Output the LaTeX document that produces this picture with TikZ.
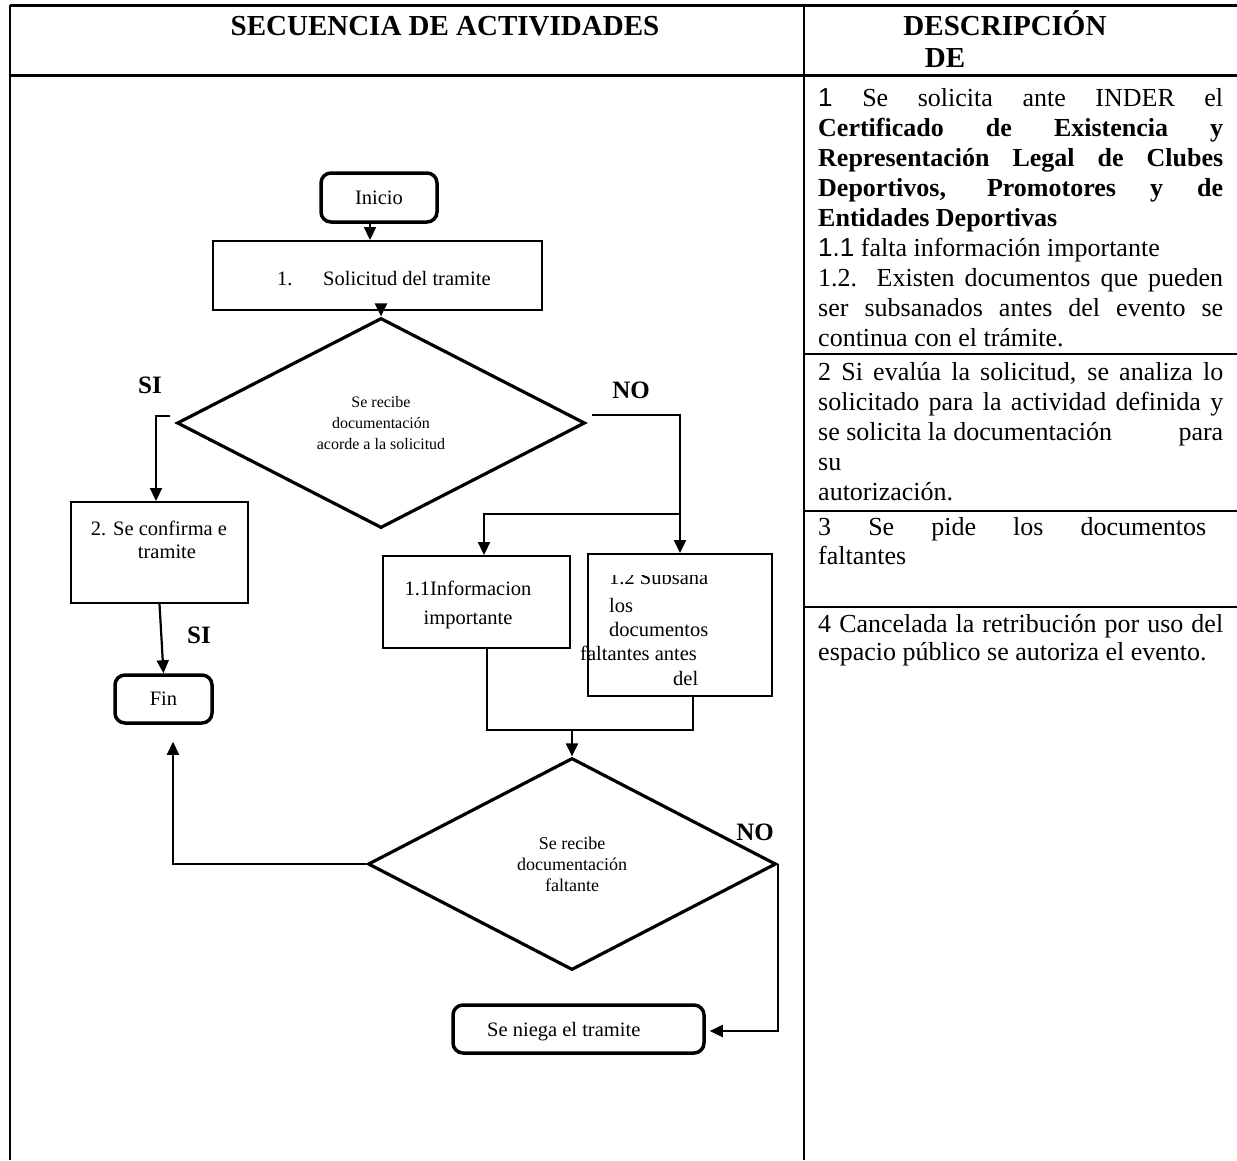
\documentclass[tikz,border=0pt]{standalone}
\usepackage{fontspec}
\setmainfont{Liberation Serif}
\newfontfamily\descfont{Liberation Serif}
\newfontfamily\descsans{Liberation Sans}
\usetikzlibrary{shapes.geometric,arrows.meta}
\newcommand\rjline[3]{\node[desc] (#1) at (818,#2) {\makebox[405pt][s]{#3}};}
\newcommand\rpline[3]{\node[desc] (#1) at (818,#2) {#3};}
\begin{document}
\begin{tikzpicture}[x=1pt,y=-1pt,
 tbl/.style={line width=2.3pt},
 boxr/.style={draw, line width=2pt, rectangle, inner sep=0},
 boxround/.style={draw, line width=3.5pt, rounded corners=10pt, inner sep=0},
 dec/.style={draw, diamond, line width=3.2pt, inner sep=0, align=center},
 arr/.style={line width=2.2pt, -{Triangle[length=13pt,width=12pt]}},
 conn/.style={line width=2.2pt},
 lbl/.style={font=\fontsize{25}{25}\selectfont\bfseries, inner sep=0},
 hdr/.style={font=\fontsize{29}{29}\selectfont\bfseries, inner sep=0, anchor=base},
 btxt/.style={font=\fontsize{20.5}{24}\selectfont, inner sep=0},
 desc/.style={font=\descfont\fontsize{26}{30}\selectfont, inner sep=0, anchor=base west}]
\useasboundingbox (0,0) rectangle (1237,1160);
% table
\draw[tbl, line width=3pt] (10,5) -- (1237,5);
\draw[tbl, line width=3pt] (10,75) -- (1237,75);
\draw[tbl] (10,5) -- (10,1160);
\draw[tbl] (804,5) -- (804,1160);
\draw[tbl] (804,354) -- (1237,354);
\draw[tbl] (804,511) -- (1237,511);
\draw[tbl] (804,607) -- (1237,607);
\node[hdr] (h1) at (445,35) {SECUENCIA DE ACTIVIDADES};
\node[hdr] (h2) at (1005,35) {DESCRIPCIÓN};
\node[hdr] (h3) at (945,67) {DE};
% right column
\rjline{d1}{106}{{\descsans 1} Se solicita ante INDER el}
\rjline{d2}{136}{\textbf{Certificado de Existencia y}}
\rjline{d3}{166}{\textbf{Representación Legal de Clubes}}
\rjline{d4}{196}{\textbf{Deportivos, Promotores y de}}
\rpline{d5}{226}{\textbf{Entidades Deportivas}}
\rpline{d6}{256}{{\descsans 1.1} falta información importante}
\rjline{d7}{286}{1.2. Existen documentos que pueden}
\rjline{d8}{316}{ser subsanados antes del evento se}
\rpline{d9}{346}{continua con el trámite.}
\rjline{e1}{380}{2 Si evalúa la solicitud, se analiza lo}
\rjline{e2}{410}{solicitado para la actividad definida y}
\rjline{e3}{440}{se solicita la documentación\hfill para}
\rpline{e4}{470}{su}
\rpline{e5}{500}{autorización.}
\node[desc] (f1) at (818,535) {\makebox[388pt][s]{3 Se pide los documentos}};
\rpline{f2}{564}{faltantes}
\rjline{g1}{632}{4 Cancelada la retribución por uso del}
\rpline{g2}{660}{espacio público se autoriza el evento.}
% flowchart nodes
\node[boxround, btxt, minimum width=116pt, minimum height=49pt] (inicio) at (379,197.5) {Inicio};
\node[boxr, minimum width=329pt, minimum height=69pt] (solic) at (377.5,275.5) {};
\node[btxt, anchor=base west] (solic1) at (277,285) {1.};
\node[btxt, anchor=base west] (solic2) at (323,285) {Solicitud del tramite};
\node[dec, minimum width=408pt, minimum height=210pt, font=\fontsize{16}{21}\selectfont] (dia1) at (381,423) {Se recibe\\documentación\\acorde a la solicitud};
\node[boxr, minimum width=177pt, minimum height=101pt] (box2) at (159.5,552.5) {};
\node[btxt, anchor=base] (box2a) at (159,535) {2. Se confirma e};
\node[btxt, anchor=base] (box2b) at (167,558) {tramite};
\node[boxround, btxt, minimum width=97pt, minimum height=48pt] (fin) at (163.5,699) {Fin};
\node[boxr, minimum width=187pt, minimum height=92pt] (b11) at (476.5,602) {};
\node[btxt, anchor=base] (b11a) at (468,595) {1.1Informacion};
\node[btxt, anchor=base] (b11b) at (468,624) {importante};
\node[boxr, minimum width=184pt, minimum height=142pt] (b12) at (680,625) {};
\begin{scope}
\clip (588,575) rectangle (772,600);
\node[btxt, anchor=base west] (b12a) at (609,584) {1.2 Subsana};
\end{scope}
\node[btxt, anchor=base west] (b12b) at (609,612) {los};
\node[btxt, anchor=base west] (b12c) at (609,636) {documentos};
\node[btxt, anchor=base west] (b12d) at (580,660) {faltantes antes};
\node[btxt, anchor=base west] (b12e) at (673,685) {del};
\node[dec, minimum width=408pt, minimum height=212pt, font=\fontsize{18}{21}\selectfont] (dia2) at (572,864) {Se recibe\\documentación\\faltante};
\node[boxround, minimum width=251pt, minimum height=48pt] (niega) at (578.5,1029) {};
\node[btxt, anchor=base west] (niegat) at (487,1036) {Se niega el tramite};
% labels
\node[lbl] (si1) at (150,385) {SI};
\node[lbl] (no1) at (631,390) {NO};
\node[lbl] (si2) at (199,635) {SI};
\node[lbl] (no2) at (755,832) {NO};
% connectors
\coordinate (a1) at ([xshift=-9pt]inicio.south);
\draw[arr] (a1) -- (a1 |- solic.north);
\draw[arr] (dia1.north |- solic.south) -- (dia1.north);
\draw[arr] ([xshift=-5pt,yshift=7pt]dia1.west) -| ([xshift=-3.5pt]box2.north);
\draw[arr] ([xshift=5pt,yshift=8pt]dia1.east) -| (b12.north);
\coordinate (brpt) at (680,514);
\draw[arr] (brpt) -| ([xshift=7.5pt]b11.north);
\draw[arr] (box2.south) -- (fin.north);
\coordinate (join) at (572,730);
\draw[conn] ([xshift=10.5pt]b11.south) |- (join) -| ([xshift=13pt]b12.south);
\draw[arr] (join) -- (dia2.north);
\coordinate (finin) at ([xshift=9.5pt,yshift=-17pt]fin.south);
\draw[arr] (dia2.west) -| (finin);
\draw[arr] (dia2.east) |- ([xshift=4pt,yshift=-2pt]niega.east);
\end{tikzpicture}
\end{document}
